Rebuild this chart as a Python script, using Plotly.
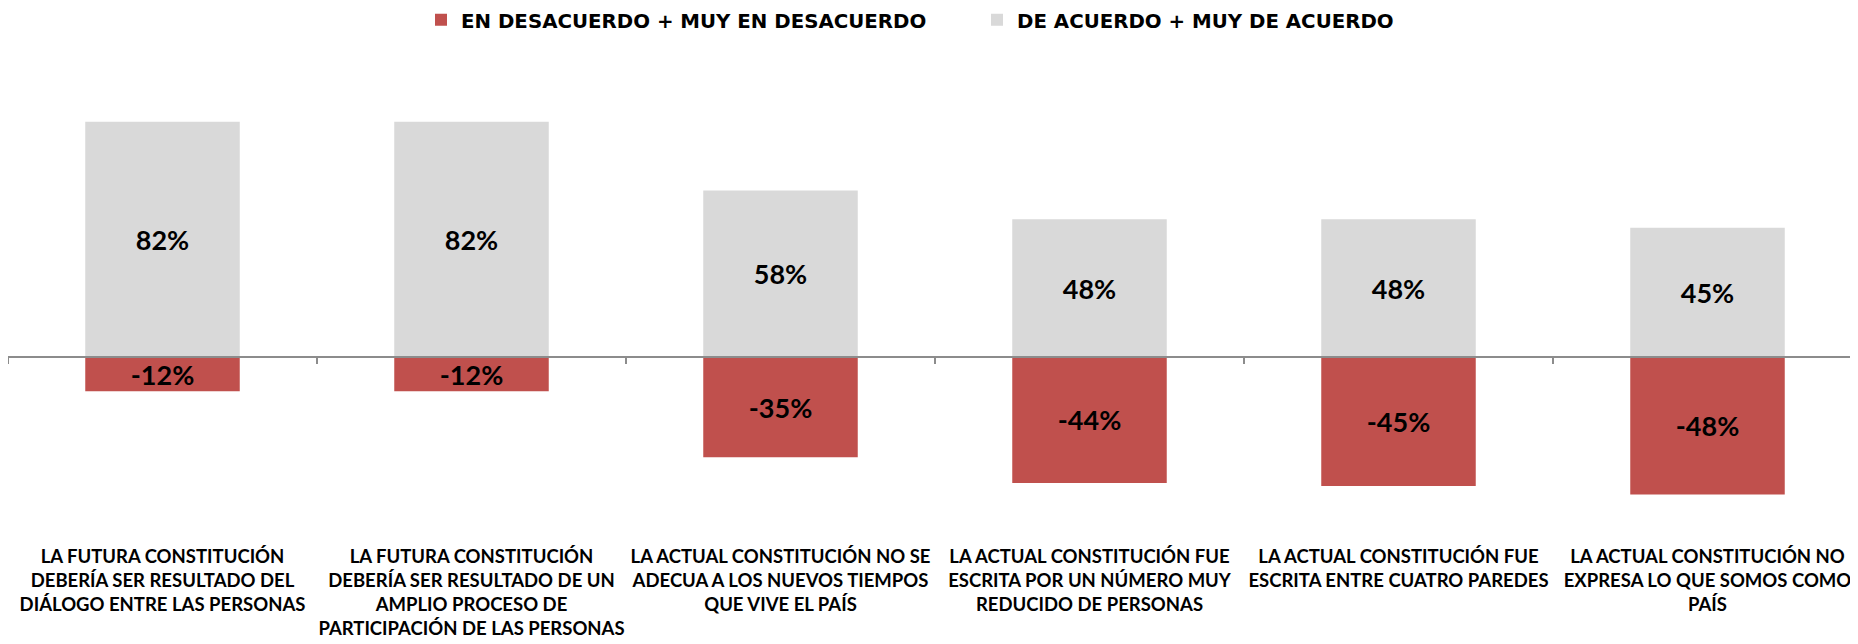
import plotly.graph_objects as go

categories = [
    "LA FUTURA CONSTITUCIÓN<br>DEBERÍA SER RESULTADO DEL<br>DIÁLOGO ENTRE LAS PERSONAS",
    "LA FUTURA CONSTITUCIÓN<br>DEBERÍA SER RESULTADO DE UN<br>AMPLIO PROCESO DE<br>PARTICIPACIÓN DE LAS PERSONAS",
    "LA ACTUAL CONSTITUCIÓN NO SE<br>ADECUA A LOS NUEVOS TIEMPOS<br>QUE VIVE EL PAÍS",
    "LA ACTUAL CONSTITUCIÓN FUE<br>ESCRITA POR UN NÚMERO MUY<br>REDUCIDO DE PERSONAS",
    "LA ACTUAL CONSTITUCIÓN FUE<br>ESCRITA ENTRE CUATRO PAREDES",
    "LA ACTUAL CONSTITUCIÓN NO<br>EXPRESA LO QUE SOMOS COMO<br>PAÍS",
]
desacuerdo = [-12, -12, -35, -44, -45, -48]
acuerdo = [82, 82, 58, 48, 48, 45]

name_desacuerdo = "EN DESACUERDO + MUY EN DESACUERDO"
name_acuerdo = "DE ACUERDO + MUY DE ACUERDO"

RED = "#C0504D"
GRAY = "#D9D9D9"
AXIS = "#8C8C8C"

W, H = 1858, 644
ML, MR, MT, MB = 0, 4, 62, 123
YMIN, YMAX = -60, 100

label_font = dict(family="Lato", size=27, color="black", weight="bold")

fig = go.Figure()
fig.add_trace(go.Bar(
    x=categories, y=acuerdo, name=name_acuerdo,
    marker=dict(color=GRAY, line=dict(width=0)),
    texttemplate="<b>%{y:.0f}%</b>", textposition="inside",
    insidetextanchor="middle", textangle=0, constraintext="none",
    textfont=label_font, xaxis="x", yaxis="y", legend="legend2",
    showlegend=True, hoverinfo="skip",
))
fig.add_trace(go.Bar(
    x=categories, y=desacuerdo, name=name_desacuerdo,
    marker=dict(color=RED, line=dict(width=0)),
    texttemplate="<b>%{y:.0f}%</b>", textposition="inside",
    insidetextanchor="middle", textangle=0, constraintext="none",
    textfont=label_font, xaxis="x2", yaxis="y", legend="legend",
    showlegend=True, hoverinfo="skip",
))

plot_w = W - ML - MR
zero_frac = (0 - YMIN) / (YMAX - YMIN)

legend_font = dict(family="DejaVu Sans", size=19.8, color="black", weight="bold")

fig.update_layout(
    width=W, height=H,
    margin=dict(l=ML, r=MR, t=MT, b=MB, autoexpand=False),
    paper_bgcolor="white", plot_bgcolor="white",
    showlegend=True,
    barmode="relative", bargap=0.5,
    xaxis=dict(
        type="category", range=[-0.5, 5.5], showline=False, showgrid=False,
        zeroline=False, ticks="", ticklabelstandoff=14, tickangle=0,
        automargin=False,
        tickfont=dict(family="Lato", size=18.5, color="black", weight="bold"),
        fixedrange=True,
    ),
    xaxis2=dict(
        type="category", matches="x", overlaying="x", anchor="free",
        position=zero_frac, side="bottom", showline=True, linecolor=AXIS,
        linewidth=2, ticks="outside", tickson="boundaries", ticklen=6,
        tickcolor=AXIS, tickwidth=2, showticklabels=False, showgrid=False,
        zeroline=False, automargin=False,
    ),
    yaxis=dict(
        range=[YMIN, YMAX], visible=False, showgrid=False, zeroline=False,
        automargin=False,
    ),
    legend=dict(
        orientation="h", x=(413 - ML) / plot_w, xanchor="left",
        yref="container", y=1 - 12 / H, yanchor="middle",
        font=legend_font, itemwidth=30, bgcolor="rgba(0,0,0,0)",
    ),
    legend2=dict(
        orientation="h", x=(969 - ML) / plot_w, xanchor="left",
        yref="container", y=1 - 12 / H, yanchor="middle",
        font=legend_font, itemwidth=30, bgcolor="rgba(0,0,0,0)",
    ),
)

fig.write_html("out.html")
